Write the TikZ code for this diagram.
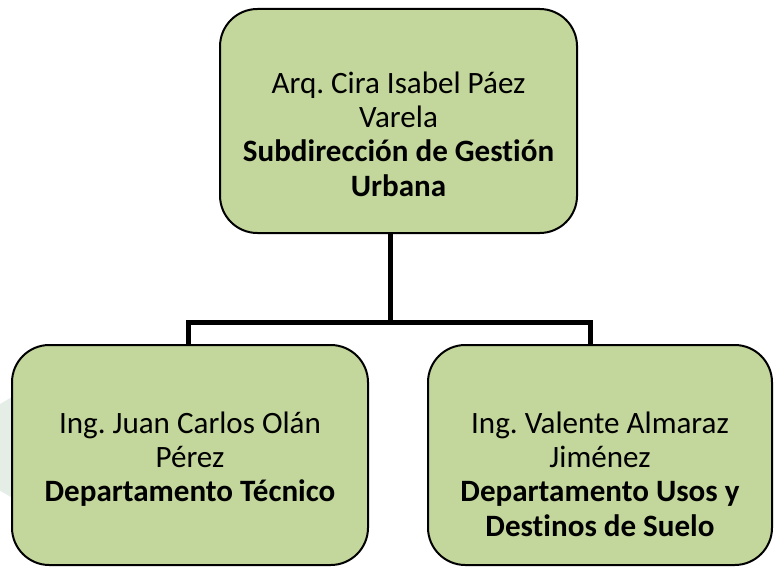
\documentclass[tikz,border=0pt]{standalone}
\usepackage{fontspec}
\setmainfont{Carlito}[Ligatures=NoCommon]
\usetikzlibrary{positioning}
\definecolor{boxgreen}{HTML}{C3D69B}
\definecolor{faintgreen}{HTML}{E4EEE7}
\def\rad{28pt}
\def\txtsep{48.5pt}
\def\barY{-241.5pt}

\begin{document}
\frenchspacing
\begin{tikzpicture}[
    box/.style={
      draw=black, line width=1.5pt, fill=boxgreen,
      rounded corners=\rad, inner sep=0pt
    },
    txt/.style={
      align=center, inner sep=0pt, anchor=north,
      font=\fontsize{23.3}{25.8}\selectfont
    },
    conn/.style={
      line width=3.75pt
    }
  ]
    \useasboundingbox (0,0) rectangle (580.5pt,-425.25pt);

    % faint mark behind the left box
    \fill[faintgreen] (0pt,-303pt) -- (12pt,-296pt) -- (12pt,-375pt) -- (0pt,-368pt) -- cycle;

    \node[box, minimum width=267.75pt, minimum height=168pt] (Sub) at (298.9pt,-90.75pt) {};
    \node[box, minimum width=267pt, minimum height=165pt] (DepTec) at (142.5pt,-341.25pt) {};
    \node[box, minimum width=258pt, minimum height=165pt] (DepUsos) at (450pt,-341.25pt) {};

    \node[txt] (SubTxt) at ([yshift=-45.5pt]Sub.north)
      {\strut Arq. Cira Isabel Páez\\ Varela\\ \textbf{Subdirección de Gestión}\\ \textbf{Urbana}};
    \node[txt] (DepTecTxt) at ([yshift=-\txtsep]DepTec.north)
      {\strut Ing. Juan Carlos Olán\\ Pérez\\ \textbf{Departamento Técnico}};
    \node[txt] (DepUsosTxt) at ([yshift=-\txtsep]DepUsos.north)
      {\strut Ing. Valente Almaraz\\ Jiménez\\ \textbf{Departamento Usos y}\\ \textbf{Destinos de Suelo}};

    \coordinate (bar) at (0pt,\barY);
    \draw[conn] ([xshift=-6.4pt]Sub.south) -- ([xshift=-6.4pt]Sub.south |- bar);
    \draw[conn] ([xshift=-1.5pt]DepTec.north) |- ([xshift=-7.5pt]DepUsos.north |- bar)
      -- ([xshift=-7.5pt]DepUsos.north);
  \end{tikzpicture}
\end{document}
